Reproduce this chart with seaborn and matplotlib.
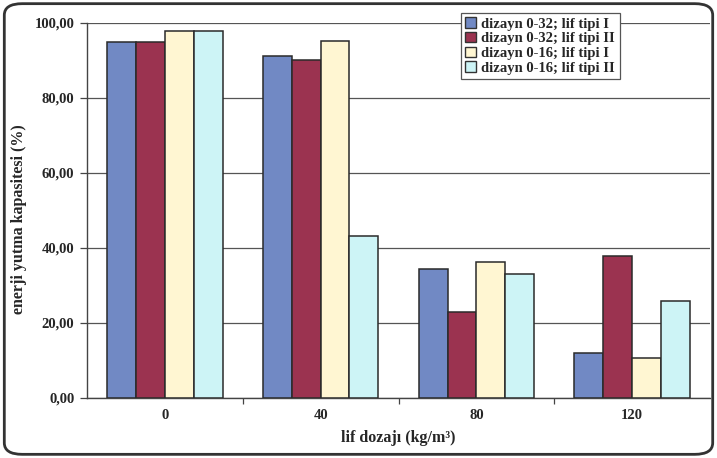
import numpy as np
import pandas as pd
import matplotlib
matplotlib.use("Agg")
import matplotlib.pyplot as plt
from matplotlib.patches import FancyBboxPatch
from matplotlib.ticker import FixedLocator, FuncFormatter
import seaborn as sns

# Fibre dosage groups (kg/m3)
doses = ["0", "40", "80", "120"]
series = ["dizayn 0-32; lif tipi I", "dizayn 0-32; lif tipi II",
          "dizayn 0-16; lif tipi I", "dizayn 0-16; lif tipi II"]
# Energy absorption capacity (%) per series, in dose order
d32_t1 = [95.0, 91.3, 34.4, 11.9]
d32_t2 = [95.0, 90.1, 23.0, 37.9]
d16_t1 = [97.8, 95.2, 36.3, 10.8]
d16_t2 = [97.8, 43.2, 33.1, 25.9]
colors = ["#7189C4", "#9B3350", "#FFF6D2", "#CDF4F6"]

values = [d32_t1, d32_t2, d16_t1, d16_t2]
df = pd.DataFrame({
    "doz": np.repeat([doses], len(series), axis=0).ravel(),
    "seri": np.repeat(series, len(doses)),
    "deger": np.concatenate(values),
})

sns.set_theme(style="white")
plt.rcParams["font.family"] = ["Liberation Serif", "DejaVu Serif"]
plt.rcParams["font.weight"] = "bold"

fig = plt.figure(figsize=(7.17, 4.58), dpi=100)
ax = fig.add_axes([87 / 717, 1 - 398 / 458, (710 - 87) / 717, (398 - 23) / 458])

sns.barplot(data=df, x="doz", y="deger", hue="seri", order=doses, hue_order=series,
            palette=colors, width=0.74, edgecolor="#2a2a2a", linewidth=1.1,
            saturation=1, ax=ax, zorder=3)

ax.set_ylim(0, 100)
ax.set_xlim(-0.5, 3.5)
ax.set_yticks([0, 20, 40, 60, 80, 100])
ax.yaxis.set_major_formatter(FuncFormatter(lambda v, p: f"{v:.2f}".replace(".", ",")))
ax.grid(axis="y", color="#555555", linewidth=0.9, zorder=0)
ax.set_axisbelow(True)

for s in ["top", "right"]:
    ax.spines[s].set_visible(False)
for s in ["left", "bottom"]:
    ax.spines[s].set_color("#444444")
    ax.spines[s].set_linewidth(1.0)

ax.tick_params(axis="y", which="major", direction="out", length=5, width=0.9,
               color="#444444", left=True, labelsize=10.5, pad=4)
ax.tick_params(axis="x", which="major", length=0, labelsize=10.5, pad=8)
ax.xaxis.set_minor_locator(FixedLocator([0.5, 1.5, 2.5]))
ax.tick_params(axis="x", which="minor", direction="out", length=4, width=0.9,
               color="#444444", bottom=True)
for lbl in ax.get_xticklabels() + ax.get_yticklabels():
    lbl.set_fontweight("bold")

ax.set_ylabel("enerji yutma kapasitesi (%)", fontsize=11.5, fontweight="bold")
ax.yaxis.set_label_coords(-0.096, 0.477)
ax.set_xlabel("lif dozajı (kg/m³)", fontsize=11.5, fontweight="bold", labelpad=6)

leg = ax.legend(loc="upper left", bbox_to_anchor=(461 / 717, 1 - 13 / 458),
                bbox_transform=fig.transFigure, borderaxespad=0, frameon=True,
                fancybox=False, fontsize=10.5, handlelength=0.7, handleheight=0.7,
                handletextpad=0.4, labelspacing=0.1, borderpad=0.3, title=None)
leg.get_frame().set_edgecolor("#555555")
leg.get_frame().set_linewidth(0.9)
leg.get_frame().set_facecolor("white")
leg.get_frame().set_alpha(1)
leg.set_zorder(5)
for t in leg.get_texts():
    t.set_fontweight("bold")
for h in leg.legend_handles:
    h.set_edgecolor("#333333")
    h.set_linewidth(1.0)

border = FancyBboxPatch((0.006, 0.008), 0.988, 0.984,
                        boxstyle="round,pad=0,rounding_size=0.025",
                        transform=fig.transFigure, fill=False,
                        edgecolor="#333333", linewidth=2.0, zorder=10)
fig.patches.append(border)

fig.savefig("out.png", dpi=100, facecolor="white")
